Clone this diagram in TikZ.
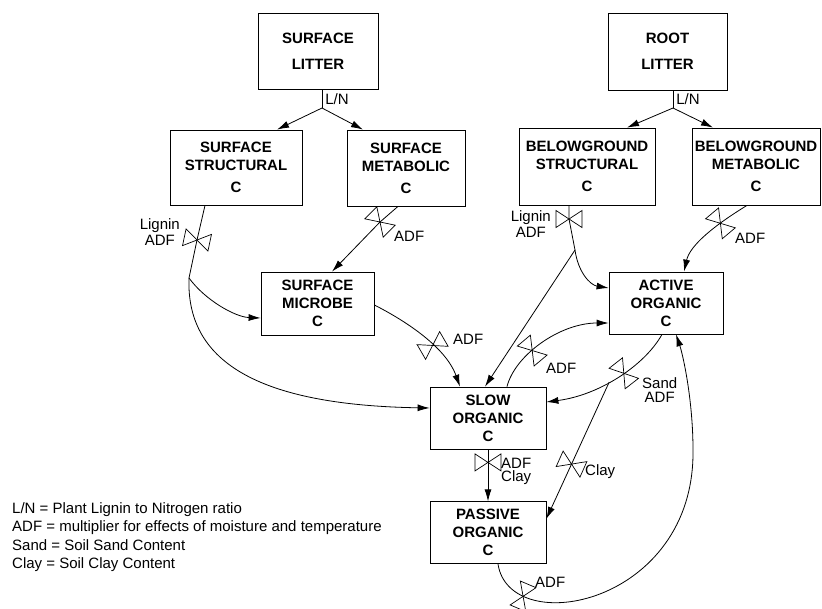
\documentclass[tikz,border=0pt]{standalone}
\usepackage{fontspec}
\setmainfont{Liberation Sans}
\usetikzlibrary{arrows.meta,positioning,calc}

\tikzset{
  valve/.pic={
    \draw[-, line width=.7pt] (-13,-8.5) -- (-13,8.5) -- (13,-8.5) -- (13,8.5) -- cycle;
  }
}

\begin{document}
\begin{tikzpicture}[x=1pt, y=-1pt,
  box/.style={draw, line width=.8pt, align=center, inner sep=0pt, font=\bfseries\fontsize{15}{18}\selectfont},
  lbl/.style={inner sep=0pt, align=center, font=\fontsize{15}{15}\selectfont},
  flow/.style={line width=.8pt, -{Latex[length=12pt,width=7pt]}},
  link/.style={line width=.8pt}]
 \useasboundingbox (0,0) rectangle (822,608);

 \node[box, minimum width=120pt, minimum height=76pt] (slitter) at (318,51) {SURFACE\\[8pt]LITTER};
 \node[box, minimum width=119pt, minimum height=77pt] (rlitter) at (667.5,51.5) {ROOT\\[8pt]LITTER};

 \node[box, minimum width=132pt, minimum height=75pt] (sstruct) at (236,167.5) {SURFACE\\STRUCTURAL\\[4pt]C};
 \node[box, minimum width=118pt, minimum height=76pt] (smetab) at (406,168) {SURFACE\\METABOLIC\\[4pt]C};
 \node[box, minimum width=136pt, minimum height=77pt] (bstruct) at (587,166.5) {BELOWGROUND\\STRUCTURAL\\[4pt]C};
 \node[box, minimum width=128pt, minimum height=77pt] (bmetab) at (756,166.5) {BELOWGROUND\\METABOLIC\\[4pt]C};

 \node[box, minimum width=113pt, minimum height=63pt] (smicrobe) at (317.5,303.5) {SURFACE\\MICROBE\\C};
 \node[box, minimum width=114pt, minimum height=62pt] (active) at (666,303) {ACTIVE\\ORGANIC\\C};
 \node[box, minimum width=116pt, minimum height=62pt] (slow) at (488,418) {SLOW\\ORGANIC\\C};
 \node[box, minimum width=116pt, minimum height=62pt, below=52pt of slow] (passive) {PASSIVE\\ORGANIC\\C};

 \node[lbl, anchor=west, align=left, font=\fontsize{15}{18.5}\selectfont] (legend) at (12,537) {L/N = Plant Lignin to Nitrogen ratio\\ADF = multiplier for effects of moisture and temperature\\Sand = Soil Sand Content\\Clay = Soil Clay Content};

 \coordinate (sln) at (322,108);
 \coordinate (rln) at (673,108);
 \draw[link] ([xshift=4pt]slitter.south) -- node[lbl, right=3pt] (lnsurf) {L/N} (sln);
 \draw[flow] (sln) -- ([xshift=41pt]sstruct.north);
 \draw[flow] (sln) -- ([xshift=-43pt]smetab.north);
 \draw[link] ([xshift=5.5pt]rlitter.south) -- node[lbl, right=3pt] (lnroot) {L/N} (rln);
 \draw[flow] (rln) -- ([xshift=40pt]bstruct.north);
 \draw[flow] (rln) -- ([xshift=-43pt]bmetab.north);

 \coordinate (v1) at (197,240);
 \coordinate (sspl) at (189,278);
 \draw[link] ([xshift=-31pt]sstruct.south) -- (v1) -- (sspl);
 \pic[rotate=-12] at (v1) {valve};
 \node[lbl, align=center, font=\fontsize{15}{16}\selectfont, anchor=east] (lig1) at (180,232) {Lignin\\ADF};
 \draw[flow] (sspl) .. controls (205,300) and (235,317) .. ([yshift=-14.5pt]smicrobe.west);
 \draw[flow] (sspl) .. controls (186,360) and (255,405) .. ([yshift=10pt]slow.west);

 \coordinate (v2) at (380,222);
 \draw[flow] ([xshift=-8pt]smetab.south) -- (v2) -- ([xshift=14.5pt]smicrobe.north);
 \pic[rotate=-45] at (v2) {valve};
 \node[lbl, anchor=west] (adf2) at (394,236) {ADF};

 \draw[flow] ([yshift=-1.5pt]smicrobe.east) .. controls (400,318) and (445,345) .. coordinate[pos=.62] (v3) ([xshift=-28pt]slow.north);
 \pic[rotate=30] at (v3) {valve};
 \node[lbl, anchor=west] (adf3) at (453,339) {ADF};

 \coordinate (v4) at (569,219);
 \coordinate (bspl) at (575,250);
 \draw[link] ([xshift=-18pt]bstruct.south) -- (v4) -- (bspl);
 \pic at (v4) {valve};
 \node[lbl, align=center, font=\fontsize{15}{16}\selectfont, anchor=east] (lig2) at (551,224.5) {Lignin\\ADF};
 \draw[flow] (bspl) .. controls (578,272) and (590,285) .. ([yshift=15pt]active.west);
 \draw[flow] (bspl) -- ([xshift=-3pt]slow.north);

 \draw[flow] ([xshift=-9pt]bmetab.south) .. controls (715,225) and (690,245) .. coordinate[pos=.3] (v5) ([xshift=18pt]active.north);
 \pic[rotate=-50] at (v5) {valve};
 \node[lbl, anchor=west] (adf5) at (735,238) {ADF};

 \draw[flow] ([xshift=19pt]slow.north) .. controls (515,355) and (560,323) .. coordinate[pos=.4] (v6) ([yshift=-20pt]active.west);
 \pic[rotate=-50] at (v6) {valve};
 \node[lbl, anchor=west] (adf6) at (546,368) {ADF};

 \draw[flow] ([xshift=-4pt]active.south) .. controls (645,365) and (600,395) .. coordinate[pos=.45] (v7) coordinate[pos=.57] (brsand) ([yshift=16pt]slow.east);
 \pic[rotate=-52] at (v7) {valve};
 \node[lbl, font=\fontsize{15}{14}\selectfont, anchor=west] (sand) at (642,390) {Sand\\ADF};

 \draw[flow] (brsand) -- coordinate[pos=.6] (v8) ([yshift=14pt]passive.east);
 \pic[rotate=-24] at (v8) {valve};
 \node[lbl, anchor=west] (clay8) at (585,472) {Clay};

 \draw[flow] (slow.south) -- coordinate[pos=.25] (v9) (passive.north);
 \pic at (v9) {valve};
 \node[lbl, align=left, font=\fontsize{15}{13.5}\selectfont, anchor=west] (adfclay) at (501,471.5) {ADF\\Clay};

 \coordinate (loopr) at (693,450);
 \draw[flow] ([xshift=10pt]passive.south) .. controls (510,640) and (695,605) .. coordinate[pos=.2] (v10) (loopr) .. controls (693,400) and (683,355) .. ([xshift=10pt]active.south);
 \pic[rotate=67] at (v10) {valve};
 \node[lbl, anchor=west] (adf10) at (535,582) {ADF};
\end{tikzpicture}
\end{document}
